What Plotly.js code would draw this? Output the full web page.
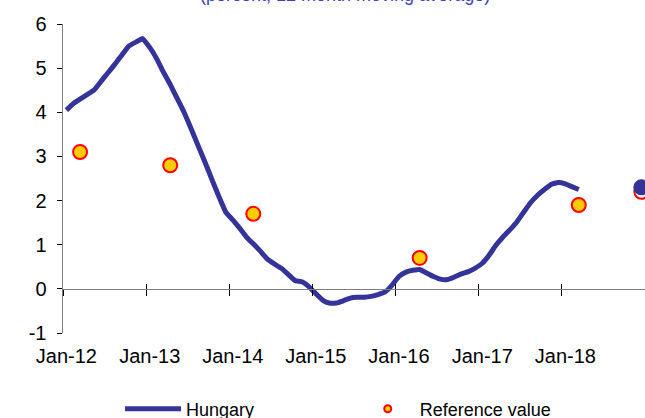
<!DOCTYPE html>
<html>
<head>
<meta charset="utf-8">
<script src="https://cdn.plot.ly/plotly-3.0.1.min.js"></script>
<style>
html, body { margin: 0; padding: 0; overflow: hidden; background: #fff; }
#chart { width: 645px; height: 418px; }
</style>
</head>
<body>
<div id="chart"></div>
<script>
// Monthly series, Jan-12 .. Mar-18 (12 month moving average, percent)
const startYear = 2012;
const hungary = [
  4.05, 4.20, 4.30, 4.40, 4.50, 4.70, 4.89, 5.09, 5.30, 5.50, 5.59, 5.67,
  5.47, 5.21, 4.92, 4.63, 4.32, 4.00, 3.64, 3.25, 2.87, 2.48, 2.09, 1.74,
  1.56, 1.37, 1.18, 1.02, 0.86, 0.68, 0.57, 0.47, 0.33, 0.19, 0.16, 0.05,
  -0.11, -0.26, -0.32, -0.32, -0.27, -0.21, -0.19, -0.19, -0.17, -0.13, -0.07, 0.08,
  0.28, 0.38, 0.42, 0.44, 0.36, 0.28, 0.22, 0.21, 0.27, 0.34, 0.39, 0.47,
  0.58, 0.77, 0.98, 1.17, 1.33, 1.51, 1.73, 1.95, 2.12, 2.25, 2.37, 2.41,
  2.38, 2.31, 2.25
];
// Reference values (convergence reports)
const refMonths = ["2012-03", "2013-04", "2014-04", "2016-04", "2018-03"];
const refValues = [3.1, 2.8, 1.7, 0.7, 1.9];
// Latest / end-of-period values
const latestMonth = ["2018-12"];
const latestHungary = [2.3];
const latestReference = [2.2];
// Axis labels
const yearLabels = ["Jan-12", "Jan-13", "Jan-14", "Jan-15", "Jan-16", "Jan-17", "Jan-18"];
const yearTicks = ["2012", "2013", "2014", "2015", "2016", "2017", "2018", "2019"];
const yTickVals = [-1, 0, 1, 2, 3, 4, 5, 6];
const yTickText = ["-1", "0", "1", "2", "3", "4", "5", "6"];

const titleText = "(percent, 12 month moving average)";

function midMonth(ym) { return ym + "-16"; }
function monthAt(i) {
  const y = startYear + Math.floor(i / 12);
  const m = (i % 12) + 1;
  return y + "-" + (m < 10 ? "0" + m : m);
}
const hungaryX = hungary.map((_, i) => midMonth(monthAt(i)));
const refX = refMonths.map(midMonth);
const latestX = latestMonth.map(midMonth);
const labelVals = yearLabels.map((_, i) => yearTicks[i] + "-01-16");
const tickVals = yearTicks.map(y => y + "-01-01");

const FONT = "Arial, 'Liberation Sans', sans-serif";
const LINE_COLOR = "#333399";
const xRange = ["2012-01-01", "2019-01-01"];

const traces = [
  { x: hungaryX, y: hungary, type: "scatter", mode: "lines", name: "Hungary",
    line: { color: LINE_COLOR, width: 5, shape: "spline", smoothing: 0.3 },
    showlegend: false, hoverinfo: "skip", cliponaxis: false },
  { x: refX, y: refValues, type: "scatter", mode: "markers", name: "Reference value",
    marker: { size: 14, color: "#FFCC00", line: { color: "#FF0000", width: 2 } },
    showlegend: false, hoverinfo: "skip", cliponaxis: false },
  { x: latestX, y: latestReference, type: "scatter", mode: "markers",
    marker: { size: 14, color: "#FFFFFF", line: { color: "#FF0000", width: 2 } },
    showlegend: false, hoverinfo: "skip", cliponaxis: false },
  { x: latestX, y: latestHungary, type: "scatter", mode: "markers",
    marker: { size: 16, color: LINE_COLOR, line: { width: 0 } },
    showlegend: false, hoverinfo: "skip", cliponaxis: false },
  // legend entries
  { x: [null], y: [null], type: "scatter", mode: "lines", name: "Hungary",
    line: { color: LINE_COLOR, width: 5 }, legend: "legend", showlegend: true },
  { x: [null], y: [null], type: "scatter", mode: "markers", name: "Reference value",
    marker: { size: 7, color: "#FFCC00", line: { color: "#FF0000", width: 2 } },
    legend: "legend2", showlegend: true },
  // helpers for the zero-line axis with crossing tick marks
  { x: [null], y: [null], xaxis: "x2", yaxis: "y", showlegend: false, hoverinfo: "skip" },
  { x: [null], y: [null], xaxis: "x3", yaxis: "y", showlegend: false, hoverinfo: "skip" }
];

const zeroPos = (0 - (-1)) / (6 - (-1));

const layout = {
  width: 645, height: 418,
  margin: { l: 63, r: 0, t: 24, b: 85, pad: 0, autoexpand: false },
  paper_bgcolor: "#ffffff", plot_bgcolor: "#ffffff",
  font: { family: FONT, color: "#000000", size: 18 },
  showlegend: true,
  xaxis: {
    type: "date", range: xRange, tickmode: "array",
    tickvals: labelVals, ticktext: yearLabels,
    ticks: "", showline: false, showgrid: false, zeroline: false,
    tickfont: { family: FONT, size: 20, color: "#000" },
    ticklabelstandoff: 9, fixedrange: true, automargin: false
  },
  xaxis2: {
    type: "date", range: xRange, overlaying: "x", anchor: "free", position: zeroPos,
    tickmode: "array", tickvals: tickVals, ticks: "outside", ticklen: 6,
    tickcolor: "#000", tickwidth: 1,
    showline: true, linecolor: "#7f7f7f", linewidth: 1.5,
    showticklabels: false, showgrid: false, zeroline: false
  },
  xaxis3: {
    type: "date", range: xRange, overlaying: "x", anchor: "free", position: zeroPos,
    tickmode: "array", tickvals: tickVals, ticks: "inside", ticklen: 5,
    tickcolor: "#000", tickwidth: 1,
    showline: false, showticklabels: false, showgrid: false, zeroline: false
  },
  yaxis: {
    range: [-1, 6], tickmode: "array", tickvals: yTickVals, ticktext: yTickText,
    ticks: "outside", ticklen: 5, tickcolor: "#000", tickwidth: 1,
    showline: true, linecolor: "#7f7f7f", linewidth: 1.5,
    showgrid: false, zeroline: false, automargin: false,
    tickfont: { family: FONT, size: 20, color: "#000" },
    ticklabelstandoff: 6
  },
  legend: {
    orientation: "h", x: 0.098, xanchor: "left", y: -0.246, yanchor: "middle",
    itemwidth: 56, font: { family: FONT, size: 18, color: "#000" },
    bgcolor: "rgba(0,0,0,0)", borderwidth: 0
  },
  legend2: {
    orientation: "h", x: 0.503, xanchor: "left", y: -0.246, yanchor: "middle",
    itemwidth: 54, font: { family: FONT, size: 18, color: "#000" },
    bgcolor: "rgba(0,0,0,0)", borderwidth: 0
  },
  annotations: [{
    text: titleText, xref: "paper", yref: "paper",
    x: 0.4845, y: 1.095, xanchor: "center", yanchor: "middle",
    showarrow: false, font: { family: FONT, size: 18, color: "#4040c0" }
  }]
};

Plotly.newPlot("chart", traces, layout, { staticPlot: true, displayModeBar: false });
</script>
</body>
</html>
